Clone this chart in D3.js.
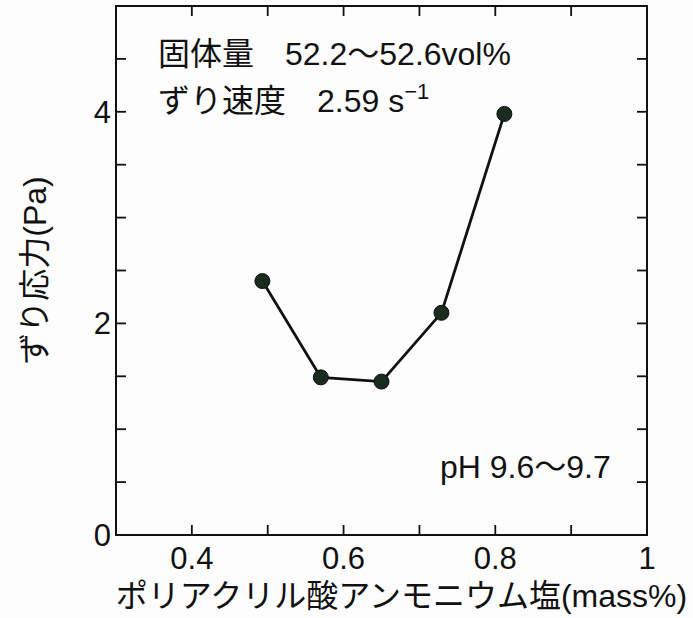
<!DOCTYPE html>
<html><head><meta charset="utf-8">
<script src="https://cdn.jsdelivr.net/npm/d3@7"></script>
<style>
html,body{margin:0;padding:0;background:#fdfdfd;}
text{font-family:"Liberation Sans","Noto Sans CJK JP",sans-serif;fill:#111;}
</style></head>
<body><svg id="c" width="693" height="618"></svg>
<script>
const xValues = [0.493, 0.570, 0.650, 0.729, 0.812];
const yValues = [2.40, 1.49, 1.45, 2.10, 3.98];
const xTicks = [0.3,0.4,0.5,0.6,0.7,0.8,0.9,1.0];
const xTickLabels = ["0.4","0.6","0.8","1"];
const yTicks = [0,0.5,1,1.5,2,2.5,3,3.5,4,4.5,5];
const yTickLabels = ["0","2","4"];
const xTitle = "ポリアクリル酸アンモニウム塩(mass%)";
const yTitle = "ずり応力(Pa)";

const svg = d3.select("#c");
const L=116, R=647, T=6, B=535;
const x = d3.scaleLinear().domain([0.3,1.0]).range([L,R]);
const y = d3.scaleLinear().domain([0,5]).range([B,T]);
const tl = 10;

const g = svg.append("g");
g.append("rect").attr("x",L).attr("y",T).attr("width",R-L).attr("height",B-T)
 .attr("fill","none").attr("stroke","#111").attr("stroke-width",2);

g.selectAll(".xtb").data(xTicks.slice(1,-1)).enter().append("line")
 .attr("x1",d=>x(d)).attr("x2",d=>x(d)).attr("y1",B).attr("y2",B-tl)
 .attr("stroke","#111").attr("stroke-width",1.8);
g.selectAll(".xtt").data(xTicks.slice(1,-1)).enter().append("line")
 .attr("x1",d=>x(d)).attr("x2",d=>x(d)).attr("y1",T).attr("y2",T+tl)
 .attr("stroke","#111").attr("stroke-width",1.8);
g.selectAll(".ytl").data(yTicks.slice(1,-1)).enter().append("line")
 .attr("x1",L).attr("x2",L+tl).attr("y1",d=>y(d)).attr("y2",d=>y(d))
 .attr("stroke","#111").attr("stroke-width",1.8);
g.selectAll(".ytr").data(yTicks.slice(1,-1)).enter().append("line")
 .attr("x1",R).attr("x2",R-tl).attr("y1",d=>y(d)).attr("y2",d=>y(d))
 .attr("stroke","#111").attr("stroke-width",1.8);

g.selectAll(".xl").data(xTickLabels).enter().append("text")
 .attr("x",d=>x(+d)).attr("y",B+34).attr("text-anchor","middle")
 .attr("font-size",31).text(d=>d);
g.selectAll(".yl").data(yTickLabels).enter().append("text")
 .attr("x",L-5).attr("y",d=>y(+d)+11).attr("text-anchor","end")
 .attr("font-size",31).text(d=>d);

svg.append("text").attr("x",(L+R)/2+20).attr("y",607).attr("text-anchor","middle")
 .attr("font-size",32).text(xTitle);
svg.append("text").attr("transform",`translate(46,${(T+B)/2}) rotate(-90)`)
 .attr("text-anchor","middle").attr("font-size",32).text(yTitle);

svg.append("text").attr("x",158).attr("y",65).attr("font-size",32).text("固体量");
svg.append("text").attr("x",285).attr("y",65).attr("font-size",32).text("52.2〜52.6vol%");
svg.append("text").attr("x",158).attr("y",112).attr("font-size",32).text("ずり速度");
const t2 = svg.append("text").attr("x",317).attr("y",112).attr("font-size",32);
t2.append("tspan").text("2.59 s");
t2.append("tspan").attr("dy",-13).attr("font-size",22).text("−1");
svg.append("text").attr("x",440).attr("y",478).attr("font-size",32).text("pH 9.6〜9.7");

const data = xValues.map((v,i)=>({x:v,y:yValues[i]}));
g.append("path").datum(data)
 .attr("d",d3.line().x(d=>x(d.x)).y(d=>y(d.y)))
 .attr("fill","none").attr("stroke","#111").attr("stroke-width",2.8);
g.selectAll(".pt").data(data).enter().append("circle")
 .attr("cx",d=>x(d.x)).attr("cy",d=>y(d.y)).attr("r",7.5)
 .attr("fill","#1b2b1e").attr("stroke","#0a0f0a").attr("stroke-width",1);
</script></body></html>
